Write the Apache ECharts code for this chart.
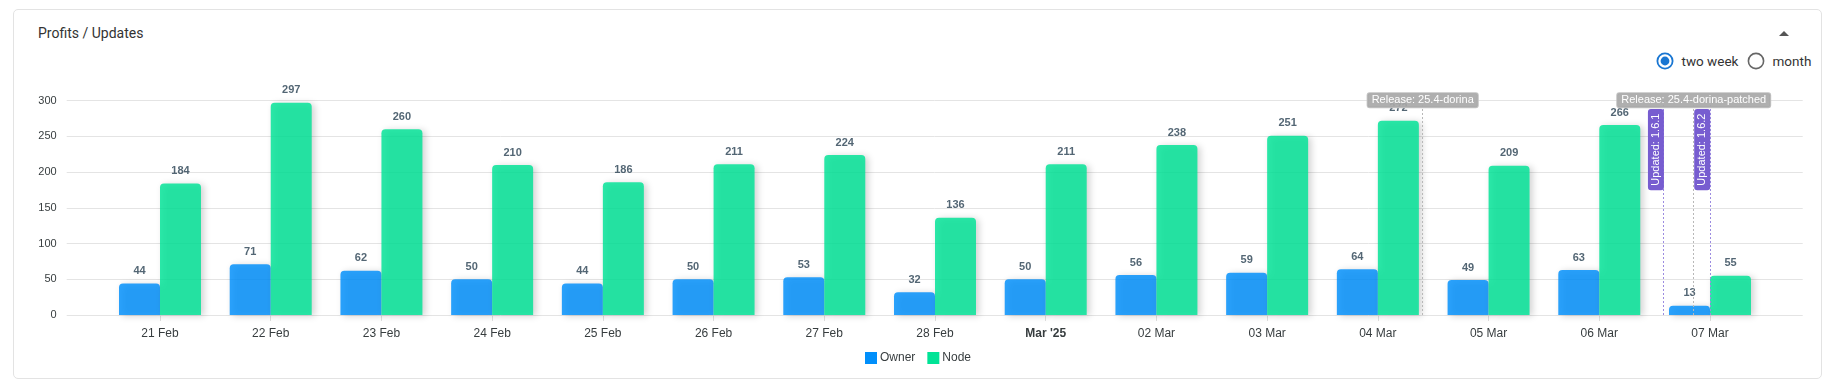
<!DOCTYPE html>
<html>
<head>
<meta charset="utf-8">
<script src="https://cdn.jsdelivr.net/npm/echarts@6/dist/echarts.min.js"></script>
<style>
html,body{margin:0;padding:0;background:#fff;width:1832px;height:391px;overflow:hidden;font-family:Roboto,"Liberation Sans",Arial,sans-serif;}
#card{position:absolute;left:12.5px;top:9px;width:1809px;height:370px;border:1px solid #e3e3e3;border-radius:5px;box-sizing:border-box;}
#title{position:absolute;left:38px;top:24px;font-size:14px;color:#333;line-height:18px;white-space:nowrap;}
#caret{position:absolute;left:1779px;top:31px;width:0;height:0;border-left:5px solid transparent;border-right:5px solid transparent;border-bottom:5px solid #555;}
.r{position:absolute;width:18px;height:18px;}
.t{position:absolute;font-size:13.5px;color:#333;line-height:18px;white-space:nowrap;}
#chart{position:absolute;left:0;top:0;width:1832px;height:391px;}
</style>
</head>
<body>
<div id="card"></div>
<div id="title">Profits / Updates</div>
<div id="caret"></div>
<svg class="r" style="left:1656px;top:51.7px" viewBox="0 0 18 18"><circle cx="9" cy="9" r="7.6" fill="none" stroke="#1976d2" stroke-width="1.8"/><circle cx="9" cy="9" r="4.4" fill="#1976d2"/></svg>
<div class="t" style="left:1681.5px;top:51.5px">two week</div>
<svg class="r" style="left:1747px;top:51.7px" viewBox="0 0 18 18"><circle cx="9" cy="9" r="7.6" fill="none" stroke="#666" stroke-width="1.6"/></svg>
<div class="t" style="left:1772.5px;top:51.5px">month</div>
<div id="chart"></div>
<script>
const categories = ["21 Feb","22 Feb","23 Feb","24 Feb","25 Feb","26 Feb","27 Feb","28 Feb","Mar '25","02 Mar","03 Mar","04 Mar","05 Mar","06 Mar","07 Mar"];
const ownerValues = [44,71,62,50,44,50,53,32,50,56,59,64,49,63,13];
const nodeValues = [184,297,260,210,186,211,224,136,211,238,251,272,209,266,55];
const yTicks = [0,50,100,150,200,250,300];
const boldCategories = ["Mar '25"];
const releaseNames = ["Release: 25.4-dorina","Release: 25.4-dorina-patched"];
const releasePositions = [11.405, 13.853];
const updateNames = ["Updated: 1.6.1","Updated: 1.6.2"];
const updatePositions = [13.582, 14.0];
const updateLabelLevel = 231.5;

const chart = echarts.init(document.getElementById('chart'), null, {renderer:'canvas'});
const FONT = '"Liberation Sans", Helvetica, Arial, sans-serif';
const shadow = {shadowBlur:7, shadowColor:'rgba(0,0,0,0.22)', shadowOffsetX:3, shadowOffsetY:1};

const markLineData = [];
releasePositions.forEach(p => markLineData.push({xAxis:p, lineStyle:{color:'#b8b8b8', type:[2,2], width:1}}));
updatePositions.forEach(p => markLineData.push({xAxis:p, lineStyle:{color:'#9c8ce0', type:[2,2], width:1}}));

const markPointData = [];
releaseNames.forEach((n,i) => markPointData.push({
  name:n, coord:[releasePositions[i], yTicks[yTicks.length-1]],
  label:{show:true, position:'inside', formatter:n, color:'#fff', fontSize:11, fontFamily:FONT, offset:[0,-0.5],
    backgroundColor:'rgba(168,168,168,0.92)', borderColor:'#c2c2c2', borderWidth:1, borderRadius:2, padding:[2,4,1,4]}
}));
updateNames.forEach((n,i) => markPointData.push({
  name:n, coord:[updatePositions[i], updateLabelLevel],
  label:{show:true, position:'inside', formatter:n, color:'#fff', fontSize:11, fontFamily:FONT, rotate:90, offset:[0,-7.8],
    backgroundColor:'#775DD0', borderColor:'#775DD0', borderWidth:1, borderRadius:2, padding:[1.5,3.5,1.5,3.5]}
}));

const option = {
  animation:false,
  textStyle:{fontFamily:FONT},
  legend:{
    left:865, top:352, padding:0, itemWidth:12, itemHeight:12, itemGap:12, icon:'rect',
    textStyle:{color:'#373d3f', fontSize:12, fontFamily:FONT, padding:[0,0,0,-2]},
    data:[{name:'Owner', itemStyle:{color:'#008FFB', opacity:1, shadowBlur:0}}, {name:'Node', itemStyle:{color:'#00E396', opacity:1, shadowBlur:0}}]
  },
  grid:[
    {left:66.7, right:29.3, top:100.7, bottom:76},
    {left:104.64, right:66.64, top:100.7, bottom:76}
  ],
  xAxis:[
    {gridIndex:0, type:'value', min:0, max:1, show:false},
    {gridIndex:1, type:'category', data:categories, boundaryGap:true,
      axisLine:{show:false}, axisTick:{show:true, alignWithLabel:true, length:6, lineStyle:{color:'#e0e0e0'}},
      axisLabel:{color:'#373d3f', fontSize:12, margin:13, fontFamily:FONT,
        formatter:v => boldCategories.includes(v) ? '{b|'+v+'}' : v,
        rich:{b:{fontWeight:'bold', fontSize:12, color:'#373d3f', fontFamily:FONT}}},
      splitLine:{show:false}},
    {gridIndex:1, type:'value', min:-0.5, max:categories.length-0.5, show:false}
  ],
  yAxis:[
    {gridIndex:0, type:'value', min:yTicks[0], max:yTicks[yTicks.length-1], interval:yTicks[1]-yTicks[0],
      axisLine:{show:false}, axisTick:{show:false},
      axisLabel:{color:'#373d3f', fontSize:11, margin:10, fontFamily:FONT},
      splitLine:{lineStyle:{color:'#e4e4e4', width:1}}},
    {gridIndex:1, type:'value', min:yTicks[0], max:yTicks[yTicks.length-1], show:false}
  ],
  series:[
    {name:'Owner', type:'bar', xAxisIndex:1, yAxisIndex:1, data:ownerValues, barWidth:41, barGap:'0%',
      itemStyle:Object.assign({color:'#008FFB', opacity:0.83, borderRadius:[4,4,0,0]}, shadow),
      label:{show:true, position:'top', distance:7, color:'#304758', fontSize:11, fontWeight:'bold', fontFamily:FONT}},
    {name:'Node', type:'bar', xAxisIndex:1, yAxisIndex:1, data:nodeValues, barWidth:41, barGap:'0%',
      itemStyle:Object.assign({color:'#00E396', opacity:0.83, borderRadius:[4,4,0,0]}, shadow),
      label:{show:true, position:'top', distance:7, color:'#304758', fontSize:11, fontWeight:'bold', fontFamily:FONT}},
    {name:'annotations', type:'line', xAxisIndex:2, yAxisIndex:1, data:[], silent:true, z:5,
      markLine:{symbol:['none','none'], silent:true, label:{show:false}, data:markLineData, z:5},
      markPoint:{symbol:'rect', symbolSize:1, itemStyle:{color:'rgba(0,0,0,0)'}, silent:true, data:markPointData, z:6}}
  ]
};
chart.setOption(option);
</script>
</body>
</html>
